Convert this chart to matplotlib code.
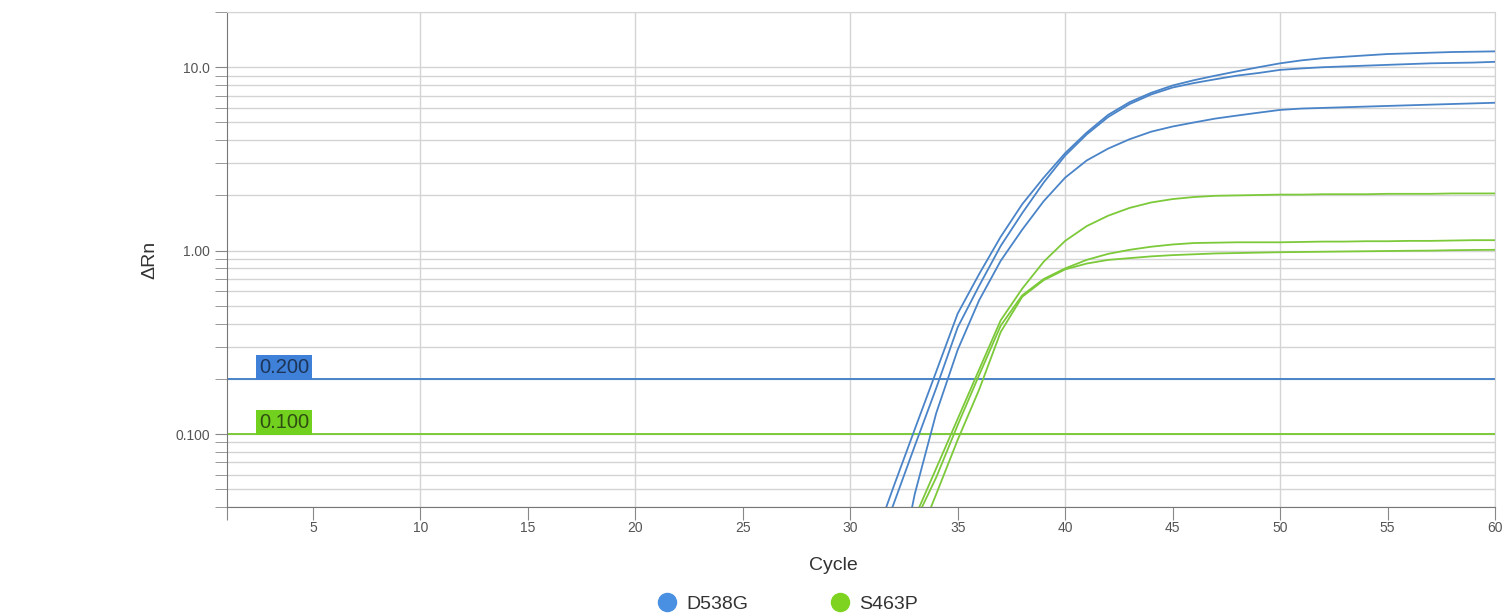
import matplotlib
matplotlib.use("Agg")
import matplotlib.pyplot as plt
from matplotlib.lines import Line2D
from matplotlib.ticker import FixedLocator, FixedFormatter, NullFormatter

plt.rcParams['font.family'] = ['Liberation Sans', 'DejaVu Sans']

# Data: delta Rn per cycle (cycles 31..60, earlier cycles are below the axis)
cycles = list(range(31, 61))

blue_a = [0.024, 0.051, 0.106, 0.219, 0.454, 0.746, 1.19, 1.79, 2.5, 3.4,
          4.4, 5.5, 6.45, 7.25, 7.95, 8.5, 9.0, 9.5, 10.0, 10.5,
          10.9, 11.2, 11.4, 11.6, 11.8, 11.9, 12.0, 12.1, 12.15, 12.2]
blue_b = [0.0197, 0.041, 0.086, 0.178, 0.382, 0.644, 1.06, 1.6, 2.35, 3.3,
          4.3, 5.35, 6.3, 7.1, 7.75, 8.2, 8.6, 9.0, 9.3, 9.67,
          9.85, 10.0, 10.1, 10.2, 10.3, 10.4, 10.5, 10.55, 10.6, 10.7]
blue_c = [0.006, 0.0124, 0.047, 0.130, 0.288, 0.537, 0.88, 1.30, 1.86, 2.5,
          3.1, 3.6, 4.05, 4.45, 4.75, 5.0, 5.25, 5.45, 5.65, 5.85,
          5.95, 6.0, 6.05, 6.1, 6.15, 6.2, 6.25, 6.3, 6.35, 6.4]

green_a = [0.012, 0.02, 0.035, 0.065, 0.121, 0.225, 0.417, 0.62, 0.87, 1.13,
           1.36, 1.55, 1.71, 1.83, 1.91, 1.96, 1.99, 2.0, 2.01, 2.02,
           2.02, 2.03, 2.03, 2.03, 2.04, 2.04, 2.04, 2.05, 2.05, 2.05]
green_b = [0.011, 0.019, 0.033, 0.058, 0.112, 0.21, 0.39, 0.57, 0.70, 0.80,
           0.89, 0.96, 1.01, 1.05, 1.08, 1.10, 1.105, 1.11, 1.11, 1.11,
           1.115, 1.12, 1.12, 1.125, 1.125, 1.13, 1.13, 1.135, 1.14, 1.14]
green_c = [0.008, 0.014, 0.024, 0.047, 0.093, 0.175, 0.36, 0.56, 0.69, 0.79,
           0.85, 0.89, 0.91, 0.93, 0.945, 0.955, 0.965, 0.97, 0.975, 0.98,
           0.983, 0.986, 0.989, 0.992, 0.995, 0.998, 1.0, 1.005, 1.008, 1.01]

targets = ['D538G', 'S463P']
thresholds = [0.2, 0.1]
threshold_labels = ['0.200', '0.100']

x_ticks = [1, 5, 10, 15, 20, 25, 30, 35, 40, 45, 50, 55, 60]
x_tick_labels = ['', '5', '10', '15', '20', '25', '30', '35', '40', '45', '50', '55', '60']
y_ticks = [0.1, 1.0, 10.0]
y_tick_labels = ['0.100', '1.00', '10.0']

BLUE = '#4a84c8'
GREEN = '#7cc93a'
GRID = '#d4d4d4'

fig = plt.figure(figsize=(15.08, 6.14), dpi=100)
ax = fig.add_axes([227 / 1508, 107 / 614, 1268 / 1508, 495 / 614])

ax.set_yscale('log')
ax.set_xlim(1, 60)
ax.set_ylim(0.04, 20)

# grid
ax.yaxis.set_major_locator(FixedLocator(y_ticks))
ax.yaxis.set_major_formatter(FixedFormatter(y_tick_labels))
minor_y = [m * d for d in (0.01, 0.1, 1.0, 10.0) for m in range(2, 10) if 0.04 <= m * d <= 20]
ax.yaxis.set_minor_locator(FixedLocator(minor_y))
ax.yaxis.set_minor_formatter(NullFormatter())
ax.grid(True, which='both', axis='y', color=GRID, linewidth=1.0)
for xv in [10, 20, 30, 40, 50, 60]:
    ax.axvline(xv, color=GRID, linewidth=1.0, zorder=0)

ax.xaxis.set_major_locator(FixedLocator(x_ticks))
ax.xaxis.set_major_formatter(FixedFormatter(x_tick_labels))

# curves
for ys in (blue_a, blue_b, blue_c):
    ax.plot(cycles, ys, color=BLUE, linewidth=1.3, zorder=3)
for ys in (green_a, green_b, green_c):
    ax.plot(cycles, ys, color=GREEN, linewidth=1.3, zorder=3)

# thresholds
box_colors = ['#3f80d8', '#72d01e']
text_colors = ['#1d3557', '#2f4d12']
for th, lab, col, bcol, tcol in zip(thresholds, threshold_labels, [BLUE, GREEN], box_colors, text_colors):
    ax.axhline(th, color=col, linewidth=1.4, zorder=2)
    ax.text(2.5, th * 1.02, lab, fontsize=14.5, color=tcol, va='bottom', ha='left',
            bbox=dict(boxstyle='square,pad=0.15', facecolor=bcol, edgecolor='none'), zorder=4)

# spines and ticks
for side in ('top', 'right'):
    ax.spines[side].set_color(GRID)
for side in ('left', 'bottom'):
    ax.spines[side].set_color('#777777')
ax.tick_params(axis='both', which='both', direction='out', length=9, color='#888888',
               labelsize=10, labelcolor='#555555')
ax.tick_params(axis='x', pad=1)

ax.set_xlabel('Cycle', fontsize=14, color='#333333')
ax.xaxis.set_label_coords((833 - 227) / 1268, -0.1)
ax.set_ylabel('ΔRn', fontsize=14, color='#333333')
ax.yaxis.set_label_coords(-0.054, 0.5)

handles = [Line2D([], [], linestyle='none', marker='o', markersize=13,
                  markerfacecolor=c, markeredgecolor=c) for c in ['#4a90e2', '#7ed321']]
fig.legend(handles, targets, loc='center', bbox_to_anchor=(788 / 1508, 10 / 614), ncol=2,
           frameon=False, fontsize=14, handlelength=1.0, handletextpad=0.5,
           columnspacing=4.2, labelcolor='#333333', borderpad=0)

fig.savefig('out.png', dpi=100)
